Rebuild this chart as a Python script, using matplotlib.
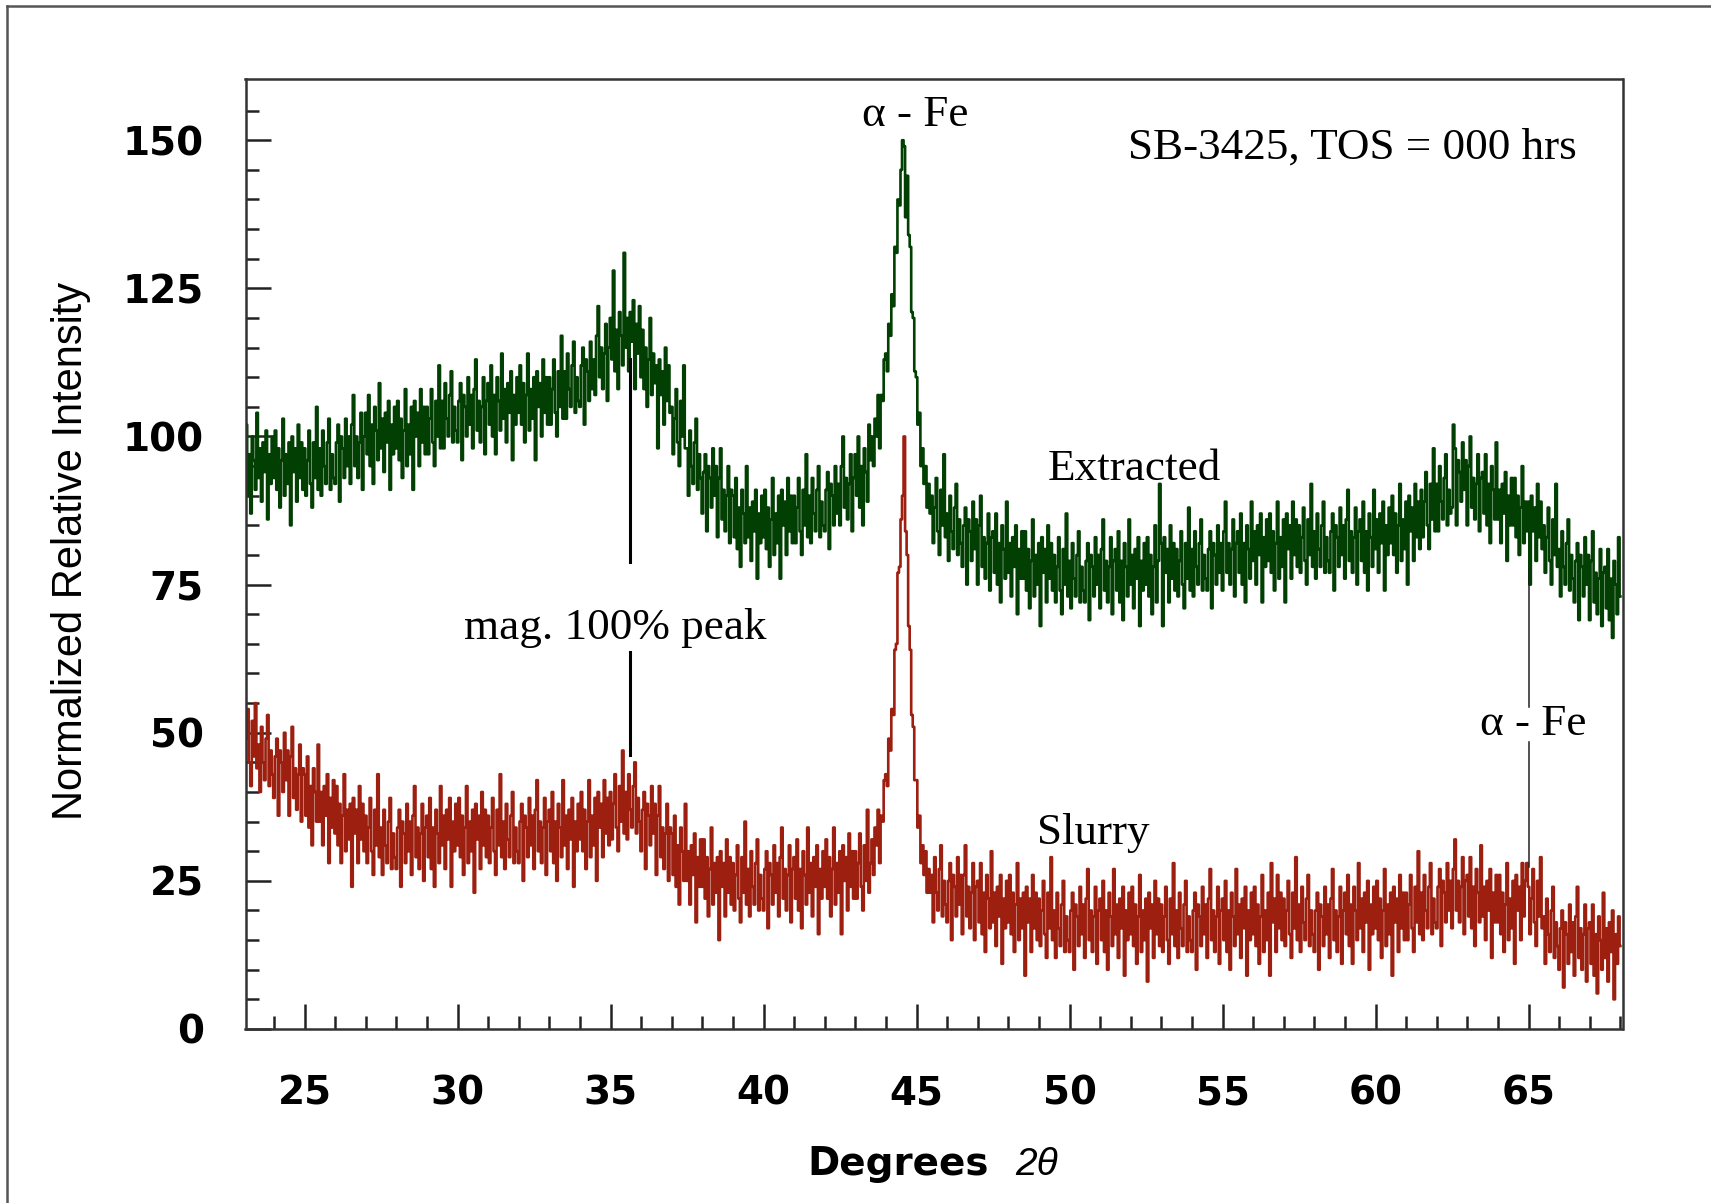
import numpy as np
import matplotlib
matplotlib.use("Agg")
import matplotlib.pyplot as plt
from matplotlib.lines import Line2D
from matplotlib.ticker import MultipleLocator, FixedLocator

# 2-theta grid, 0.05 deg step (23.00 ... 68.00)
two_theta = np.round(np.arange(23.0, 68.025, 0.05), 2)

# extracted sample (green), one line per half degree
extracted = [
    99, 92, 102, 90, 97, 87, 100, 96, 91, 104,      # 23.0
    93, 98, 89, 99, 94, 101, 86, 97, 92, 100,       # 23.5
    93, 101, 91, 98, 88, 96, 103, 90, 97, 92,       # 24.0
    99, 85, 100, 94, 98, 89, 102, 93, 99, 91,       # 24.5
    98, 90, 96, 101, 92, 88, 99, 93, 105, 91,       # 25.0
    98, 90, 101, 95, 92, 99, 103, 91, 97, 93,       # 25.5
    92, 99, 102, 89, 100, 98, 93, 103, 95, 100,     # 26.0
    92, 102, 107, 95, 100, 93, 99, 104, 91, 100,    # 26.5
    104, 97, 107, 95, 102, 92, 105, 101, 96, 109,   # 27.0
    98, 103, 94, 104, 99, 106, 91, 102, 97, 105,    # 27.5
    98, 106, 96, 103, 93, 101, 108, 95, 102, 97,    # 28.0
    105, 91, 106, 100, 104, 95, 108, 99, 105, 97,   # 28.5
    105, 97, 103, 108, 99, 95, 106, 100, 112, 98,   # 29.0
    106, 98, 109, 103, 100, 107, 111, 99, 105, 101, # 29.5
    99, 106, 109, 96, 107, 105, 100, 110, 102, 107, # 30.0
    98, 108, 113, 101, 106, 99, 105, 110, 97, 106,  # 30.5
    109, 102, 112, 100, 107, 97, 110, 106, 101, 114,# 31.0
    103, 108, 99, 109, 104, 111, 96, 107, 102, 110, # 31.5
    104, 112, 102, 109, 99, 107, 114, 101, 108, 103,# 32.0
    110, 96, 111, 105, 109, 100, 113, 104, 110, 102,# 32.5
    110, 102, 108, 113, 104, 100, 111, 105, 117, 103,  # 33.0
    111, 103, 114, 108, 105, 112, 116, 104, 110, 106,  # 33.5
    105, 112, 115, 102, 113, 111, 106, 116, 108, 113,  # 34.0
    107, 117, 122, 110, 115, 108, 114, 119, 106, 115,  # 34.5
    120, 113, 128, 111, 118, 108, 121, 117, 112, 131,  # 35.0
    115, 120, 111, 121, 116, 123, 108, 119, 114, 122,  # 35.5
    110, 118, 108, 115, 105, 113, 120, 107, 114, 109,  # 36.0
    112, 98, 113, 107, 111, 102, 115, 106, 112, 104,   # 36.5
    105, 97, 103, 108, 99, 95, 106, 100, 112, 98,      # 37.0
    98, 90, 101, 95, 92, 99, 103, 91, 97, 93,          # 37.5
    87, 94, 97, 84, 95, 93, 88, 98, 90, 95,            # 38.0
    83, 93, 98, 86, 91, 84, 90, 95, 82, 91,            # 38.5
    90, 83, 93, 81, 88, 78, 91, 87, 82, 95,            # 39.0
    83, 88, 79, 89, 84, 91, 76, 87, 82, 90,            # 39.5
    83, 91, 81, 88, 78, 86, 93, 80, 87, 82,            # 40.0
    90, 76, 91, 85, 89, 80, 93, 84, 90, 82,            # 40.5
    90, 82, 88, 93, 84, 80, 91, 85, 97, 83,            # 41.0
    90, 82, 93, 87, 84, 91, 95, 83, 89, 85,            # 41.5
    84, 91, 94, 81, 92, 90, 85, 95, 87, 92,            # 42.0
    85, 95, 100, 88, 93, 86, 92, 97, 84, 93,           # 42.5
    97, 90, 100, 88, 95, 85, 98, 94, 89, 102,          # 43.0
    96, 100, 95, 103, 100, 107, 98, 107, 106, 113,     # 43.5
    114, 111, 119, 117, 124, 122, 132, 131, 140, 139,  # 44.0
    145, 150, 149, 137, 144, 134, 132, 121, 120, 111,  # 44.5
    110, 102, 104, 95, 98, 92, 95, 88, 92, 87,         # 45.0
    90, 82, 88, 93, 84, 80, 91, 85, 97, 83,            # 45.5
    87, 79, 90, 84, 81, 88, 92, 80, 86, 82,            # 46.0
    78, 85, 88, 75, 86, 84, 79, 89, 81, 86,            # 46.5
    75, 85, 90, 78, 83, 76, 82, 87, 74, 83,            # 47.0
    84, 77, 87, 75, 82, 72, 85, 81, 76, 89,            # 47.5
    77, 82, 73, 83, 78, 85, 70, 81, 76, 84,            # 48.0
    76, 84, 74, 81, 71, 79, 86, 73, 80, 75,            # 48.5
    82, 68, 83, 77, 81, 72, 85, 76, 82, 74,            # 49.0
    80, 72, 78, 83, 74, 70, 81, 75, 87, 73,            # 49.5
    79, 71, 82, 76, 73, 80, 84, 72, 78, 74,            # 50.0
    72, 79, 82, 69, 80, 78, 73, 83, 75, 80,            # 50.5
    71, 81, 86, 74, 79, 72, 78, 83, 70, 79,            # 51.0
    81, 74, 84, 72, 79, 69, 82, 78, 73, 86,            # 51.5
    75, 80, 71, 81, 76, 83, 68, 79, 74, 82,            # 52.0
    75, 83, 73, 80, 70, 78, 85, 72, 79, 92,            # 52.5
    82, 68, 83, 77, 81, 72, 85, 76, 82, 74,            # 53.0
    81, 73, 79, 84, 75, 71, 82, 76, 88, 74,            # 53.5
    81, 73, 84, 78, 75, 82, 86, 74, 80, 76,            # 54.0
    74, 81, 84, 71, 82, 80, 75, 85, 77, 82,            # 54.5
    74, 84, 89, 77, 82, 75, 81, 86, 73, 82,            # 55.0
    84, 77, 87, 75, 82, 72, 85, 81, 76, 89,            # 55.5
    79, 84, 75, 85, 80, 87, 72, 83, 78, 86,            # 56.0
    79, 87, 77, 84, 74, 82, 89, 76, 83, 78,            # 56.5
    86, 72, 87, 81, 85, 76, 89, 80, 86, 78,            # 57.0
    85, 77, 83, 88, 79, 75, 86, 80, 92, 78,            # 57.5
    84, 76, 87, 81, 78, 85, 89, 77, 83, 79,            # 58.0
    77, 84, 87, 74, 85, 83, 78, 88, 80, 85,            # 58.5
    76, 86, 91, 79, 84, 77, 83, 88, 75, 84,            # 59.0
    86, 79, 89, 77, 84, 74, 87, 83, 78, 91,            # 59.5
    81, 86, 77, 87, 82, 89, 74, 85, 80, 88,            # 60.0
    82, 90, 80, 87, 77, 85, 92, 79, 86, 81,            # 60.5
    89, 75, 90, 84, 88, 79, 92, 83, 89, 81,            # 61.0
    91, 83, 89, 94, 85, 81, 92, 86, 98, 84,            # 61.5
    92, 84, 95, 89, 86, 93, 97, 85, 91, 87,            # 62.0
    88, 102, 98, 85, 96, 94, 89, 99, 91, 96,           # 62.5
    85, 95, 100, 88, 93, 86, 92, 97, 84, 93,           # 63.0
    94, 87, 97, 85, 92, 82, 95, 91, 86, 99,            # 63.5
    86, 91, 82, 92, 87, 94, 79, 90, 85, 93,            # 64.0
    85, 93, 83, 90, 80, 88, 95, 82, 89, 84,            # 64.5
    89, 75, 90, 84, 88, 79, 92, 83, 89, 81,            # 65.0
    85, 77, 83, 88, 79, 75, 86, 80, 92, 78,            # 65.5
    81, 73, 84, 78, 75, 82, 86, 74, 80, 76,            # 66.0
    72, 79, 82, 69, 80, 78, 73, 83, 75, 80,            # 66.5
    69, 79, 84, 72, 77, 70, 76, 81, 68, 77,            # 67.0
    78, 71, 81, 69, 76, 66, 79, 75, 70, 83,            # 67.5
    73,                                                # 68.0
]

# slurry sample (red)
slurry = [
    51, 43, 49, 54, 45, 41, 52, 46, 55, 44,   # 23.0
    48, 40, 51, 45, 42, 49, 53, 41, 47, 43,   # 23.5
    39, 46, 49, 36, 47, 45, 40, 50, 42, 47,   # 24.0
    36, 46, 51, 39, 44, 37, 43, 48, 35, 44,   # 24.5
    43, 36, 46, 34, 41, 31, 44, 40, 35, 48,   # 25.0
    35, 40, 31, 41, 36, 43, 28, 39, 34, 42,   # 25.5
    33, 41, 31, 38, 28, 36, 43, 30, 37, 32,   # 26.0
    38, 24, 39, 33, 37, 28, 41, 32, 38, 30,   # 26.5
    36, 28, 34, 39, 30, 26, 37, 31, 43, 29,   # 27.0
    34, 26, 37, 31, 28, 35, 39, 27, 33, 29,   # 27.5
    27, 34, 37, 24, 35, 33, 28, 38, 30, 35,   # 28.0
    26, 36, 41, 29, 34, 27, 33, 38, 25, 34,   # 28.5
    36, 29, 39, 27, 34, 24, 37, 33, 28, 41,   # 29.0
    31, 36, 27, 37, 32, 39, 24, 35, 30, 38,   # 29.5
    31, 39, 29, 36, 26, 34, 41, 28, 35, 30,   # 30.0
    37, 23, 38, 32, 36, 27, 40, 31, 37, 29,   # 30.5
    36, 28, 34, 39, 30, 26, 37, 31, 43, 29,   # 31.0
    35, 27, 38, 32, 29, 36, 40, 28, 34, 30,   # 31.5
    28, 35, 38, 25, 36, 34, 29, 39, 31, 36,   # 32.0
    27, 37, 42, 30, 35, 28, 34, 39, 26, 35,   # 32.5
    37, 30, 40, 28, 35, 25, 38, 34, 29, 42,   # 33.0
    31, 36, 27, 37, 32, 39, 24, 35, 30, 38,   # 33.5
    32, 40, 30, 37, 27, 35, 42, 29, 36, 31,   # 34.0
    39, 25, 40, 34, 38, 29, 42, 33, 39, 31,   # 34.5
    40, 32, 38, 43, 34, 30, 41, 35, 47, 33,   # 35.0
    40, 32, 43, 37, 34, 41, 45, 33, 39, 35,   # 35.5
    30, 37, 40, 27, 38, 36, 31, 41, 33, 38,   # 36.0
    26, 36, 41, 29, 34, 27, 33, 38, 25, 34,   # 36.5
    33, 26, 36, 24, 31, 21, 34, 30, 25, 38,   # 37.0
    25, 30, 21, 31, 26, 33, 18, 29, 24, 32,   # 37.5
    24, 32, 22, 29, 19, 27, 34, 21, 28, 23,   # 38.0
    29, 15, 30, 24, 28, 19, 32, 23, 29, 21,   # 38.5
    28, 20, 26, 31, 22, 18, 29, 23, 35, 21,   # 39.0
    27, 19, 30, 24, 21, 28, 32, 20, 26, 22,   # 39.5
    20, 27, 30, 17, 28, 26, 21, 31, 23, 28,   # 40.0
    19, 29, 34, 22, 27, 20, 26, 31, 18, 27,   # 40.5
    29, 22, 32, 20, 27, 17, 30, 26, 21, 34,   # 41.0
    23, 28, 19, 29, 24, 31, 16, 27, 22, 30,   # 41.5
    24, 32, 22, 29, 19, 27, 34, 21, 28, 23,   # 42.0
    30, 16, 31, 25, 29, 20, 33, 24, 30, 22,   # 42.5
    30, 22, 28, 33, 24, 20, 31, 25, 37, 23,   # 43.0
    28, 32, 26, 34, 31, 37, 28, 36, 35, 42,   # 43.5
    43, 41, 49, 47, 54, 53, 64, 65, 77, 78,   # 44.0
    86, 90, 100, 84, 80, 68, 64, 53, 51, 42,  # 44.5
    42, 34, 36, 28, 31, 26, 30, 23, 27, 23,   # 45.0
    26, 18, 29, 23, 20, 27, 31, 19, 25, 21,   # 45.5
    18, 25, 28, 15, 26, 24, 19, 29, 21, 26,   # 46.0
    16, 26, 31, 19, 24, 17, 23, 28, 15, 24,   # 46.5
    25, 18, 28, 16, 23, 13, 26, 22, 17, 30,   # 47.0
    18, 23, 14, 24, 19, 26, 11, 22, 17, 25,   # 47.5
    18, 26, 16, 23, 13, 21, 28, 15, 22, 17,   # 48.0
    23, 9, 24, 18, 22, 13, 26, 17, 23, 15,    # 48.5
    22, 14, 20, 25, 16, 12, 23, 17, 29, 15,   # 49.0
    20, 12, 23, 17, 14, 21, 25, 13, 19, 15,   # 49.5
    13, 20, 23, 10, 21, 19, 14, 24, 16, 21,   # 50.0
    12, 22, 27, 15, 20, 13, 19, 24, 11, 20,   # 50.5
    22, 15, 25, 13, 20, 10, 23, 19, 14, 27,   # 51.0
    16, 21, 12, 22, 17, 24, 9, 20, 15, 23,    # 51.5
    16, 24, 14, 21, 11, 19, 26, 13, 20, 15,   # 52.0
    22, 8, 23, 17, 21, 12, 25, 16, 22, 14,    # 52.5
    21, 13, 19, 24, 15, 11, 22, 16, 28, 14,   # 53.0
    20, 12, 23, 17, 14, 21, 25, 13, 19, 15,   # 53.5
    13, 20, 23, 10, 21, 19, 14, 24, 16, 21,   # 54.0
    12, 22, 27, 15, 20, 13, 19, 24, 11, 20,   # 54.5
    22, 15, 25, 13, 20, 10, 23, 19, 14, 27,   # 55.0
    16, 21, 12, 22, 17, 24, 9, 20, 15, 23,    # 55.5
    16, 24, 14, 21, 11, 19, 26, 13, 20, 15,   # 56.0
    23, 9, 28, 18, 22, 13, 26, 17, 23, 15,    # 56.5
    22, 14, 20, 25, 16, 12, 23, 17, 29, 15,   # 57.0
    21, 13, 24, 18, 15, 22, 26, 14, 20, 16,   # 57.5
    13, 20, 23, 10, 21, 19, 14, 24, 16, 21,   # 58.0
    12, 22, 27, 15, 20, 13, 19, 24, 11, 20,   # 58.5
    23, 16, 26, 14, 21, 11, 24, 20, 15, 28,   # 59.0
    17, 22, 13, 23, 18, 25, 10, 21, 16, 24,   # 59.5
    17, 25, 15, 22, 12, 20, 27, 14, 21, 16,   # 60.0
    23, 9, 24, 18, 22, 13, 26, 17, 23, 15,    # 60.5
    23, 15, 21, 26, 17, 13, 24, 18, 30, 16,   # 61.0
    23, 15, 26, 20, 17, 24, 28, 16, 22, 18,   # 61.5
    17, 24, 27, 14, 25, 23, 18, 28, 20, 25,   # 62.0
    17, 27, 32, 20, 25, 18, 24, 29, 16, 25,   # 62.5
    26, 19, 29, 17, 24, 14, 27, 23, 18, 31,   # 63.0
    19, 24, 15, 25, 20, 27, 12, 23, 18, 26,   # 63.5
    18, 26, 16, 23, 13, 21, 28, 15, 22, 17,   # 64.0
    25, 11, 26, 20, 24, 15, 28, 19, 25, 28,   # 64.5
    24, 16, 22, 27, 18, 14, 25, 19, 29, 17,   # 65.0
    19, 11, 22, 16, 13, 20, 24, 12, 18, 14,   # 65.5
    10, 17, 20, 7, 18, 16, 11, 21, 13, 18,    # 66.0
    9, 19, 24, 12, 17, 10, 16, 21, 8, 17,     # 66.5
    18, 11, 21, 9, 16, 6, 19, 15, 10, 23,     # 67.0
    12, 17, 8, 18, 13, 20, 5, 16, 11, 19,     # 67.5
    14,                                       # 68.0
]

x_ticks = [25, 30, 35, 40, 45, 50, 55, 60, 65]
y_ticks = [0, 25, 50, 75, 100, 125, 150]

assert len(extracted) == len(two_theta) == len(slurry)

W, H = 1711, 1203
fig = plt.figure(figsize=(W / 100, H / 100), dpi=100)
ax = fig.add_axes([245.5 / W, 1 - 1029 / H, (1622.5 - 245.5) / W, (1029 - 78.6) / H])

ax.plot(two_theta, extracted, drawstyle="steps-mid", color="#023f02", lw=1.9)
ax.plot(two_theta, slurry, drawstyle="steps-mid", color="#9c1f10", lw=1.9)

ax.set_xlim(23.07, 68.07)
ax.set_ylim(0, 160.4)

ax.set_xticks(x_ticks, labels=[str(v) for v in x_ticks], fontsize=28,
              fontweight="bold", family="DejaVu Sans")
ax.set_yticks(y_ticks, labels=[str(v) for v in y_ticks], fontsize=28,
              fontweight="bold", family="DejaVu Sans")
ax.xaxis.set_minor_locator(MultipleLocator(1))
ax.yaxis.set_minor_locator(FixedLocator(list(range(5, 160, 5))))
ax.tick_params(which="both", direction="in", width=1.8, color="#222222")
ax.tick_params(which="major", length=18)
ax.tick_params(which="minor", length=9.5)
ax.tick_params(axis="y", which="major", pad=30)
ax.tick_params(axis="x", which="major", pad=33)
for sp in ax.spines.values():
    sp.set_linewidth(1.8)
    sp.set_color("#333333")
    sp.set_zorder(3)

# marker lines
ax.plot([35.65, 35.65], [113, 78.9], color="black", lw=2.2)
ax.plot([35.65, 35.65], [63.6, 46.2], color="black", lw=2.2)
ax.plot([65.0, 65.0], [77.6, 54.4], color="#222222", lw=1.1)
ax.plot([65.0, 65.0], [48.5, 27.3], color="#222222", lw=1.1)

serif = dict(family="Liberation Serif", fontsize=32.5, color="black", va="baseline")
ax.text(44.95, 152.4, "α - Fe", ha="center", **serif)
ax.text(66.56, 146.9, "SB-3425, TOS = 000 hrs", ha="right", **serif)
ax.text(49.27, 92.7, "Extracted", ha="left", **serif)
ax.text(48.95, 31.3, "Slurry", ha="left", **serif)
ax.text(30.2, 65.8, "mag. 100% peak", ha="left", **serif)
ax.text(65.14, 49.6, "α - Fe", ha="center", **serif)

# axis titles
fig.text(71 / W, 1 - 551 / H, "Normalized Relative Intensity", rotation=90,
         fontsize=30, family="Liberation Sans", ha="center", va="center")
fig.text(807 / W, 1 - 1175 / H, "Degrees", fontsize=28, fontweight="bold",
         family="DejaVu Sans", ha="left", va="baseline")
fig.text(1015 / W, 1 - 1175 / H, "2θ", fontsize=28, style="italic",
         family="Liberation Sans", ha="left", va="baseline")

# outer frame
fig.add_artist(Line2D([7 / W, 7 / W], [0, 1 - 6 / H], transform=fig.transFigure,
                      color="#555555", lw=1.8))
fig.add_artist(Line2D([7 / W, 1], [1 - 6 / H, 1 - 6 / H], transform=fig.transFigure,
                      color="#555555", lw=1.8))

fig.savefig("out.png", dpi=100)
